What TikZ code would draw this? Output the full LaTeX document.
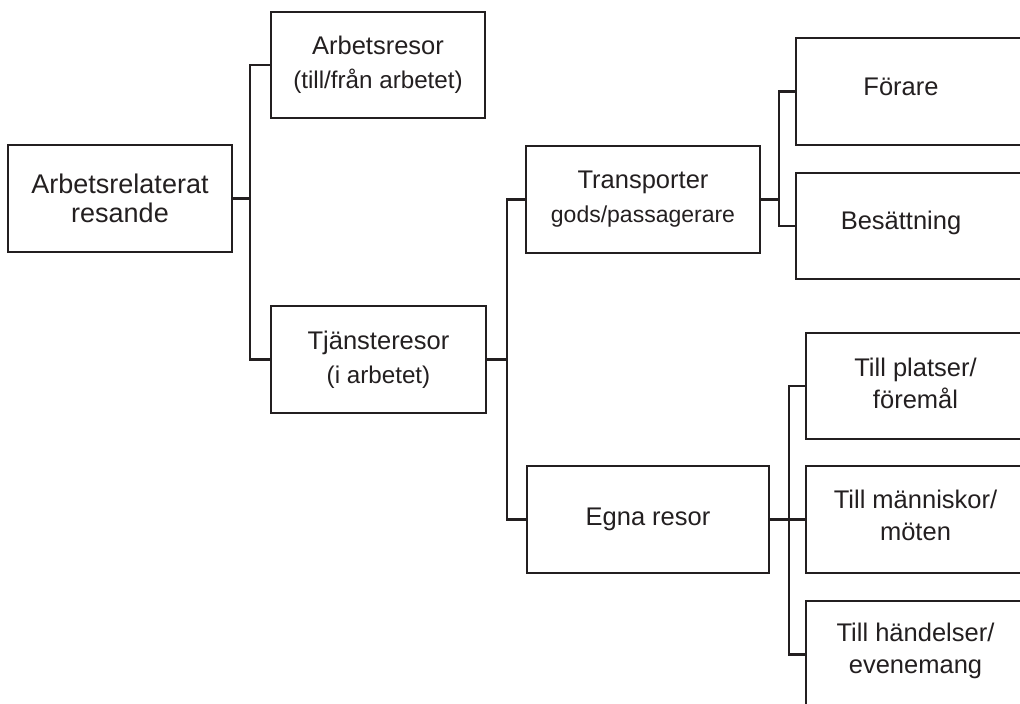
\documentclass[tikz,border=0pt]{standalone}
\usepackage{fontspec}
\setmainfont{Liberation Sans}
\definecolor{ink}{HTML}{231F20}
\begin{document}
\begin{tikzpicture}[x=1pt,y=-1pt,
  box/.style={draw=ink, line width=2.2pt, text=ink, minimum height=107pt, inner sep=0pt, align=center,
    font=\fontsize{25.5}{32}\selectfont},
  twoline/.style={font=\fontsize{25.5}{34}\selectfont},
  rootfont/.style={font=\fontsize{27}{29}\selectfont},
  lbl/.style={text=ink, inner sep=0pt, align=center, font=\fontsize{25.5}{32}\selectfont},
  link/.style={draw=ink, line width=2.2pt}]
\useasboundingbox (0,0) rectangle (1020,704);
\clip (0,0) rectangle (1020,704);

% main boxes
\node[box, rootfont, minimum width=224pt] (root) at (120,198.5) {Arbetsrelaterat\\resande};
\node[box, twoline, minimum width=214pt, minimum height=106pt] (arb) at (378,65)
  {Arbetsresor\\{\fontsize{24.2}{34}\selectfont (till/från arbetet)}};
\node[box, twoline, minimum width=215pt] (tja) at (378.5,359.5)
  {Tjänsteresor\\{\fontsize{24.2}{34}\selectfont (i arbetet)}};
\node[box, twoline, minimum width=234pt] (trans) at (643,199.5)
  {Transporter\\{\fontsize{23}{34}\selectfont gods/passagerare}};
\node[box, minimum width=242pt] (egna) at (648,519.5) {Egna resor};

% right-hand boxes (cut by the right edge)
\node[box, anchor=west, minimum width=260pt] (forare) at (795,91.5) {};
\node[box, anchor=west, minimum width=260pt, minimum height=106pt] (besatt) at (795,226) {};
\node[box, anchor=west, minimum width=250pt, minimum height=106pt] (platser) at (805,386) {};
\node[box, anchor=west, minimum width=250pt] (manniskor) at (805,519.5) {};
\node[box, anchor=west, minimum width=250pt] (handelser) at (805,654.5) {};

\node[lbl, anchor=base] (forareT) at (901,95) {Förare};
\node[lbl, anchor=base] (besattT) at (901,229.5) {Besättning};
\node[lbl] (platserT) at (915.5,383.3) {Till platser/\\föremål};
\node[lbl] (manniskorT) at (915.5,515) {Till människor/\\möten};
\node[lbl] (handelserT) at (915.5,651) {Till händelser/\\evenemang};

% junctions
\coordinate (j1) at (250,198.5);
\coordinate (j2) at (507,359.5);
\coordinate (j3) at (779,199.5);
\coordinate (j4) at (789,519.5);

% connectors
\draw[link] (root.east) -- (j1);
\draw[link] (arb.west) -| (j1);
\draw[link] (tja.west) -| (j1);

\draw[link] (tja.east) -- (j2);
\draw[link] (trans.west) -| (j2);
\draw[link] (egna.west) -| (j2);

\draw[link] (trans.east) -- (j3);
\draw[link] (forare.west) -| (j3);
\draw[link] (besatt.west) -| (j3);

\draw[link] (egna.east) -- (j4);
\draw[link] (platser.west) -| (j4);
\draw[link] (manniskor.west) -| (j4);
\draw[link] (handelser.west) -| (j4);
\end{tikzpicture}
\end{document}
